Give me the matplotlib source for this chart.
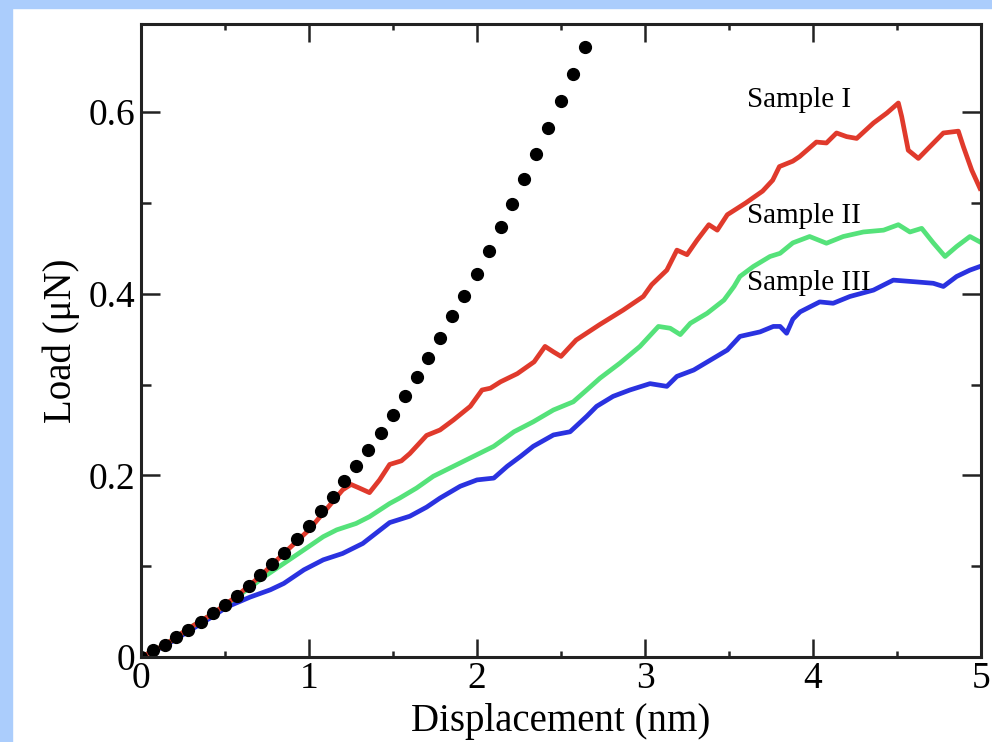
import matplotlib
matplotlib.use('Agg')
import matplotlib.pyplot as plt
from matplotlib.patches import Rectangle
from matplotlib.ticker import MultipleLocator

plt.rcParams['font.family'] = ['Liberation Serif', 'DejaVu Serif']

# dotted reference curve
dot_x = [0, 0.07, 0.14, 0.21, 0.28, 0.36, 0.43, 0.50, 0.57, 0.64, 0.71, 0.78, 0.85,
         0.93, 1.00, 1.07, 1.14, 1.21, 1.28, 1.35, 1.43, 1.50, 1.57, 1.64, 1.71, 1.78,
         1.85, 1.92, 2.00, 2.07, 2.14, 2.21, 2.28, 2.35, 2.42, 2.50, 2.57, 2.64]
dot_y = [0, 0.008, 0.013, 0.022, 0.030, 0.038, 0.048, 0.057, 0.067, 0.078, 0.090,
         0.102, 0.115, 0.130, 0.144, 0.161, 0.176, 0.194, 0.210, 0.228, 0.247, 0.267,
         0.287, 0.308, 0.329, 0.351, 0.375, 0.398, 0.422, 0.447, 0.473, 0.499, 0.526,
         0.554, 0.582, 0.612, 0.642, 0.672]

# Sample I (red)
s1_x = [0, 0.14, 0.28, 0.43, 0.57, 0.71, 0.85, 1.0, 1.1, 1.2, 1.25, 1.3, 1.36, 1.42,
        1.48, 1.55, 1.6, 1.7, 1.78, 1.86, 1.96, 2.03, 2.08, 2.14, 2.24, 2.34, 2.405,
        2.455, 2.5, 2.59, 2.73, 2.87, 2.99, 3.04, 3.13, 3.19, 3.25, 3.31, 3.38, 3.43,
        3.49, 3.6, 3.7, 3.76, 3.8, 3.88, 3.92, 4.02, 4.08, 4.14, 4.2, 4.26, 4.36, 4.44,
        4.508, 4.528, 4.567, 4.627, 4.696, 4.776, 4.865, 4.895, 4.945, 4.994]
s1_y = [0, 0.013, 0.031, 0.048, 0.067, 0.089, 0.114, 0.14, 0.162, 0.184, 0.19, 0.186,
        0.181, 0.195, 0.212, 0.216, 0.224, 0.244, 0.25, 0.261, 0.276, 0.294, 0.296,
        0.303, 0.312, 0.325, 0.342, 0.336, 0.331, 0.349, 0.366, 0.382, 0.397, 0.41,
        0.426, 0.448, 0.443, 0.459, 0.476, 0.47, 0.487, 0.5, 0.513, 0.525, 0.54, 0.546,
        0.551, 0.567, 0.566, 0.577, 0.573, 0.571, 0.588, 0.599, 0.61, 0.595, 0.558,
        0.549, 0.562, 0.577, 0.579, 0.562, 0.536, 0.516]

# Sample II (green)
s2_x = [0, 0.14, 0.28, 0.43, 0.57, 0.66, 0.73, 0.85, 0.97, 1.085, 1.165, 1.28, 1.36,
        1.48, 1.54, 1.64, 1.74, 1.86, 1.98, 2.1, 2.22, 2.335, 2.455, 2.573, 2.653,
        2.732, 2.85, 2.97, 3.08, 3.15, 3.21, 3.27, 3.37, 3.47, 3.53, 3.565, 3.645,
        3.744, 3.804, 3.88, 3.98, 4.08, 4.18, 4.3, 4.42, 4.508, 4.577, 4.647, 4.716,
        4.786, 4.855, 4.934, 4.994]
s2_y = [0, 0.013, 0.031, 0.048, 0.066, 0.078, 0.088, 0.103, 0.118, 0.1325, 0.14,
        0.147, 0.1545, 0.169, 0.175, 0.186, 0.199, 0.21, 0.221, 0.232, 0.248, 0.259,
        0.272, 0.281, 0.294, 0.307, 0.3235, 0.342, 0.364, 0.362, 0.355, 0.3675, 0.3785,
        0.393, 0.408, 0.419, 0.43, 0.441, 0.4445, 0.456, 0.463, 0.4556, 0.463, 0.468,
        0.47, 0.476, 0.468, 0.472, 0.456, 0.441, 0.452, 0.463, 0.457]

# Sample III (blue)
s3_x = [0, 0.14, 0.28, 0.43, 0.51, 0.65, 0.77, 0.85, 0.97, 1.085, 1.2, 1.32, 1.48,
        1.6, 1.7, 1.78, 1.9, 2.0, 2.1, 2.18, 2.26, 2.335, 2.455, 2.554, 2.653, 2.712,
        2.81, 2.91, 3.03, 3.13, 3.19, 3.29, 3.39, 3.49, 3.565, 3.685, 3.764, 3.804,
        3.843, 3.88, 3.923, 4.04, 4.12, 4.22, 4.36, 4.478, 4.617, 4.716, 4.776, 4.855,
        4.934, 4.994]
s3_y = [0, 0.012, 0.028, 0.045, 0.055, 0.066, 0.074, 0.081, 0.096, 0.107, 0.114,
        0.125, 0.148, 0.155, 0.165, 0.175, 0.188, 0.195, 0.197, 0.21, 0.221, 0.232,
        0.2445, 0.248, 0.265, 0.276, 0.287, 0.294, 0.301, 0.298, 0.309, 0.316, 0.327,
        0.338, 0.353, 0.358, 0.364, 0.364, 0.3565, 0.372, 0.38, 0.391, 0.3895, 0.397,
        0.404, 0.415, 0.413, 0.4115, 0.408, 0.419, 0.426, 0.43]

labels = ['Sample I', 'Sample II', 'Sample III']
label_x = [3.61, 3.61, 3.61]
label_y = [0.613, 0.486, 0.412]

x_ticks = [0, 1, 2, 3, 4, 5]
x_ticklabels = ['0', '1', '2', '3', '4', '5']
y_ticks = [0, 0.2, 0.4, 0.6]
y_ticklabels = ['0', '0.2', '0.4', '0.6']

fig = plt.figure(figsize=(9.92, 7.42), dpi=100)
# light blue frame on the left and top
fig.patches.append(Rectangle((0, 0), 12/992, 1, transform=fig.transFigure,
                             color='#abcdfc', zorder=0))
fig.patches.append(Rectangle((0, 1 - 8/742), 1, 8/742, transform=fig.transFigure,
                             color='#abcdfc', zorder=0))

ax = fig.add_axes([141/992, 85/742, 840/992, 633/742])

ax.plot(s3_x, s3_y, color='#2a32e0', lw=3.4, solid_joinstyle='round')
ax.plot(s2_x, s2_y, color='#55e27a', lw=3.4, solid_joinstyle='round')
ax.plot(s1_x, s1_y, color='#e03a2c', lw=3.4, solid_joinstyle='round')
ax.plot(dot_x, dot_y, 'o', color='black', ms=8.5, ls='none')

for t, x, y in zip(labels, label_x, label_y):
    ax.text(x, y, t, fontsize=21, va='center', ha='left')

ax.set_xlim(0, 5)
ax.set_ylim(0, 0.697)
ax.set_xticks(x_ticks)
ax.set_xticklabels(x_ticklabels)
ax.set_yticks(y_ticks)
ax.set_yticklabels(y_ticklabels)
ax.xaxis.set_minor_locator(MultipleLocator(0.5))
ax.yaxis.set_minor_locator(MultipleLocator(0.1))

ax.tick_params(which='both', direction='in', top=True, right=True,
               labelsize=27, width=1.8, color='#222222')
ax.tick_params(axis='x', which='major', length=13, pad=3)
ax.tick_params(axis='x', which='minor', length=4)
ax.tick_params(axis='y', which='major', length=14, pad=4)
ax.tick_params(axis='y', which='minor', length=7)
for s in ax.spines.values():
    s.set_linewidth(2.2)
    s.set_color('#222222')

ax.set_xlabel('Displacement (nm)', fontsize=28, labelpad=5)
ax.set_ylabel('Load (μN)', fontsize=28, labelpad=6)

fig.savefig('out.png', dpi=100)
